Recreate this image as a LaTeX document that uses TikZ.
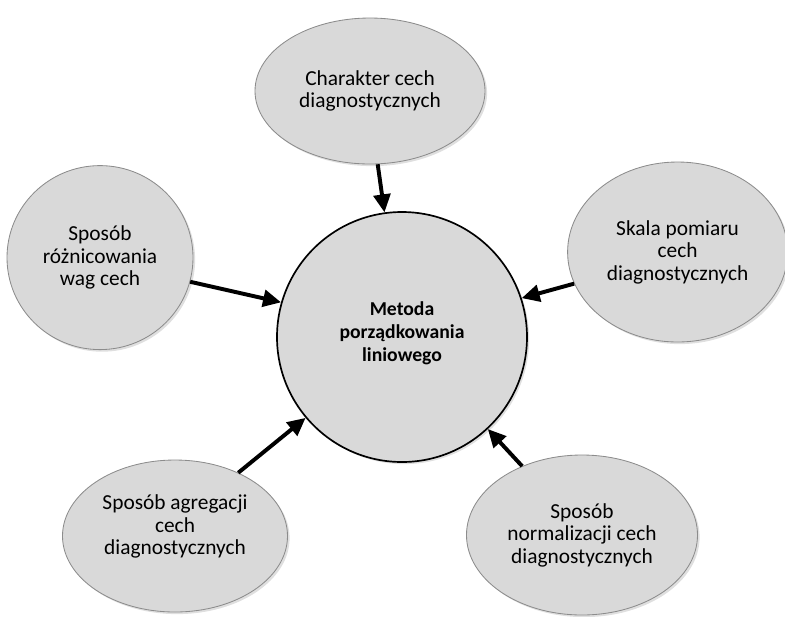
\documentclass[tikz,border=0pt]{standalone}
\usepackage{fontspec}
\setmainfont{Carlito}
\usepackage{tikz}
\usetikzlibrary{shapes.geometric, arrows.meta, positioning, shadows}
\definecolor{myfill}{RGB}{217,217,217}
\definecolor{myedge}{RGB}{140,140,140}
\definecolor{mydark}{RGB}{0,0,0}
\tikzset{
  factor/.style={ellipse, draw=myedge, fill=myfill, line width=0.6pt,
    align=center, inner sep=0pt, font=\fontsize{15.2}{16}\selectfont,
    drop shadow={opacity=0.25, shadow xshift=1.5pt, shadow yshift=-1.5pt}},
  hub/.style={circle, draw=mydark, fill=myfill, line width=1.2pt,
    align=center, inner sep=0pt, minimum size=6.25cm,
    font=\fontsize{14}{16.5}\selectfont\bfseries,
    drop shadow={opacity=0.25, shadow xshift=1.5pt, shadow yshift=-1.5pt}},
  arrow/.style={-{Triangle[length=0.45cm, width=0.42cm]}, line width=2.8pt, color=mydark}
}
\begin{document}
\begin{tikzpicture}
  \useasboundingbox (0,0) rectangle (19.625,-15.4);

  % Centre
  \node[hub] (metoda) at (10.05, -8.425) {Metoda\\porządkowania\\liniowego\\[-0.3cm]};

  % Factors
  \node[factor, minimum width=5.75cm, minimum height=3.65cm] (charakter) at (9.25, -2.275) {Charakter cech\\diagnostycznych};
  \node[factor, minimum width=4.65cm, minimum height=4.6cm] (wagi) at (2.5, -6.44) {Sposób\\różnicowania\\wag cech};
  \node[factor, minimum width=5.5cm, minimum height=4.5cm] (skala) at (16.94, -6.3) {Skala pomiaru\\cech\\diagnostycznych};
  \node[factor, minimum width=5.625cm, minimum height=3.8cm] (agregacja) at (4.375, -13.4) {Sposób agregacji\\cech\\diagnostycznych\\[0pt]};
  \node[factor, minimum width=5.775cm, minimum height=4.0cm] (normalizacja) at (14.55, -13.375) {Sposób\\normalizacji cech\\diagnostycznych};

  % Arrows into the centre
  \draw[arrow] (charakter.-84) -- (metoda.98);
  \draw[arrow] (wagi.-15) -- (metoda.164);
  \draw[arrow] (skala.-163) -- (metoda.18);
  \draw[arrow] (agregacja.45) -- (metoda.-140);
  \draw[arrow] (normalizacja.131) -- (metoda.-47);
\end{tikzpicture}
\end{document}
